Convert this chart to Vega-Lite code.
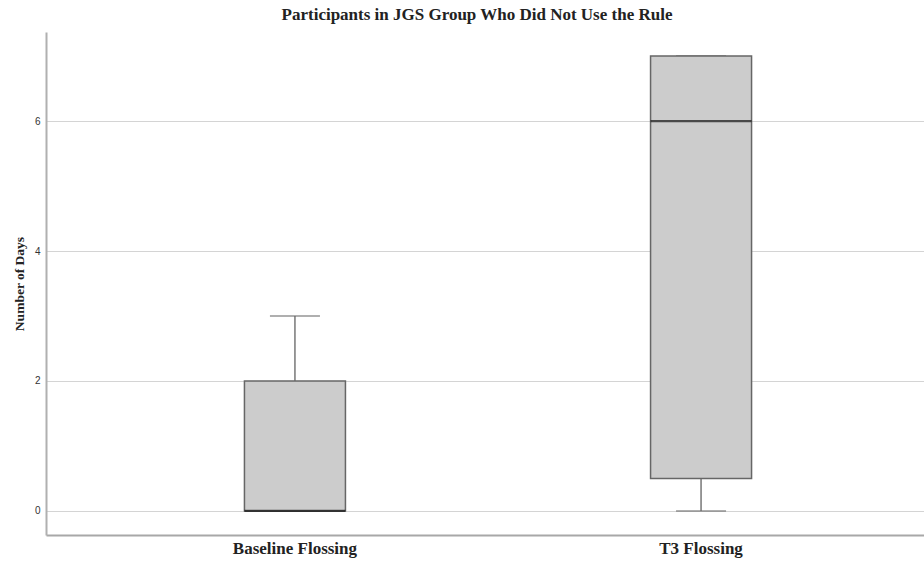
{
  "$schema": "https://vega.github.io/schema/vega-lite/v6.json",
  "width": 878,
  "height": 503,
  "autosize": "none",
  "padding": {"left": 46, "top": 32, "right": 0, "bottom": 26},
  "background": "white",
  "view": {"stroke": null},
  "title": {"text": "Participants in JGS Group Who Did Not Use the Rule", "font": "Liberation Serif", "fontSize": 17, "fontWeight": "bold", "color": "#222222", "anchor": "middle", "offset": 8, "dx": -8},
  "data": {"values": [
    {"group": "Baseline Flossing", "min": 0, "q1": 0, "median": 0, "q3": 2, "max": 3},
    {"group": "T3 Flossing", "min": 0, "q1": 0.5, "median": 6, "q3": 7, "max": 7}
  ]},
  "encoding": {
    "x": {"field": "group", "type": "nominal", "sort": null,
      "scale": {"range": [0, 904], "paddingInner": 0, "paddingOuter": 0.113},
      "axis": {"title": null, "labelAngle": 0, "ticks": false, "grid": false, "domainColor": "#a8a8a8", "domainWidth": 2, "labelFont": "Liberation Serif", "labelFontSize": 17, "labelFontWeight": "bold", "labelColor": "#222222", "labelPadding": 5}}
  },
  "layer": [
    {"mark": {"type": "rule", "color": "#777777", "strokeWidth": 1.5},
     "encoding": {"y": {"field": "min", "type": "quantitative",
        "scale": {"domain": [-0.37, 7.37], "nice": false, "zero": false},
        "axis": {"title": "Number of Days", "values": [0, 2, 4, 6], "format": "d", "ticks": false, "grid": true, "gridColor": "#d4d4d4", "gridWidth": 1.2, "domainColor": "#b0b0b0", "domainWidth": 2, "labelFont": "Liberation Sans", "labelFontSize": 10, "labelColor": "#333333", "labelPadding": 6, "titleFont": "Liberation Serif", "titleFontSize": 13.5, "titleFontWeight": "bold", "titleColor": "#222222", "titlePadding": 8}},
       "y2": {"field": "q1"}}},
    {"mark": {"type": "rule", "color": "#777777", "strokeWidth": 1.5},
     "encoding": {"y": {"field": "q3", "type": "quantitative"}, "y2": {"field": "max"}}},
    {"mark": {"type": "tick", "color": "#666666", "size": 50, "thickness": 1.5},
     "encoding": {"y": {"field": "min", "type": "quantitative"}}},
    {"mark": {"type": "tick", "color": "#666666", "size": 50, "thickness": 1.5},
     "encoding": {"y": {"field": "max", "type": "quantitative"}}},
    {"mark": {"type": "bar", "size": 101, "fill": "#cccccc", "stroke": "#666666", "strokeWidth": 1.5},
     "encoding": {"y": {"field": "q1", "type": "quantitative"}, "y2": {"field": "q3"}}},
    {"mark": {"type": "tick", "color": "#111111", "size": 101, "thickness": 2.2},
     "encoding": {"y": {"field": "median", "type": "quantitative"}}}
  ]
}
